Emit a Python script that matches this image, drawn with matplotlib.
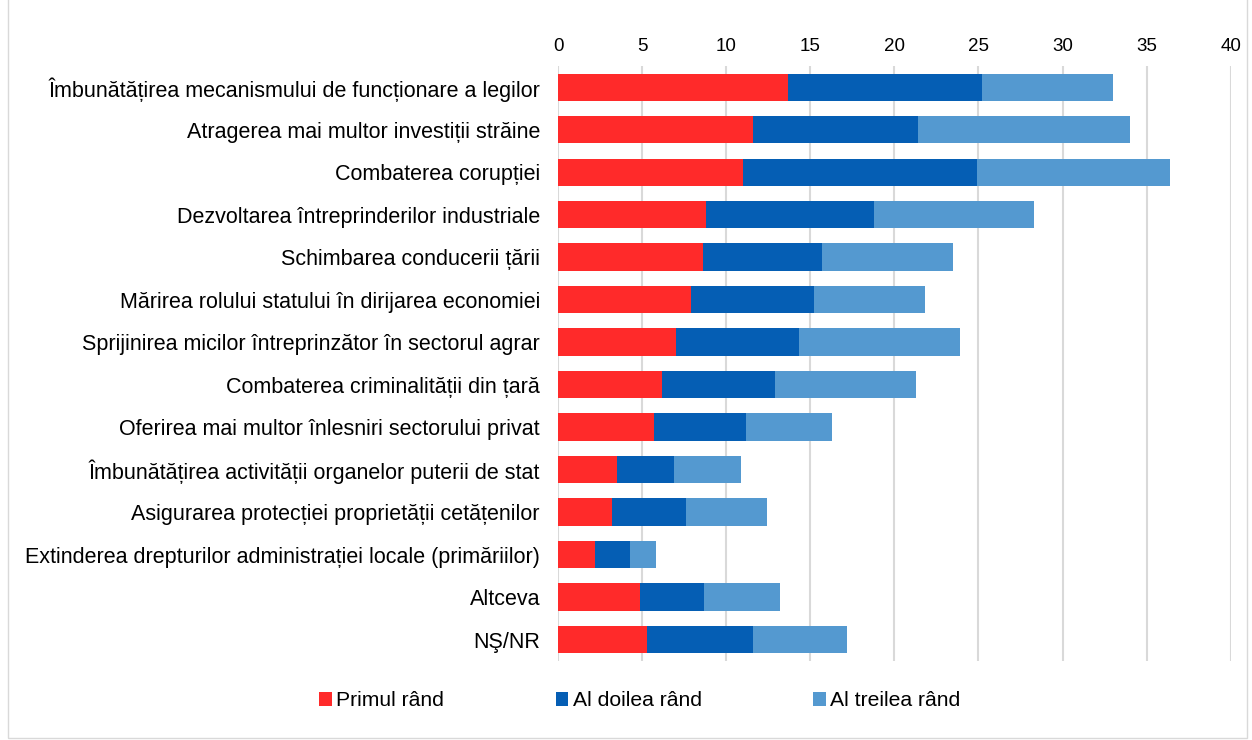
import numpy as np
import matplotlib.pyplot as plt
from matplotlib.patches import Rectangle

plt.rcParams['font.family'] = ['Liberation Sans', 'DejaVu Sans']

categories = [
    "Îmbunătățirea mecanismului de funcționare a legilor",
    "Atragerea mai multor investiții străine",
    "Combaterea corupției",
    "Dezvoltarea întreprinderilor industriale",
    "Schimbarea conducerii țării",
    "Mărirea rolului statului în dirijarea economiei",
    "Sprijinirea micilor întreprinzător în sectorul agrar",
    "Combaterea criminalității din țară",
    "Oferirea mai multor înlesniri sectorului privat",
    "Îmbunătățirea activității organelor puterii de stat",
    "Asigurarea protecției proprietății cetățenilor",
    "Extinderea drepturilor administrației locale (primăriilor)",
    "Altceva",
    "NŞ/NR",
]
primul = [13.7, 11.6, 11.0, 8.8, 8.6, 7.9, 7.0, 6.2, 5.7, 3.5, 3.2, 2.2, 4.9, 5.3]
al_doilea = [11.5, 9.8, 13.9, 10.0, 7.1, 7.3, 7.3, 6.7, 5.5, 3.4, 4.4, 2.1, 3.8, 6.3]
al_treilea = [7.8, 12.6, 11.5, 9.5, 7.8, 6.6, 9.6, 8.4, 5.1, 4.0, 4.8, 1.5, 4.5, 5.6]
series_names = ["Primul rând", "Al doilea rând", "Al treilea rând"]
colors = ["#ff2a2a", "#055eb4", "#5499d0"]

fig = plt.figure(figsize=(12.52, 7.4), dpi=100)
ax = fig.add_axes([0.4457, 0.107, 0.5373, 0.804])

y = np.arange(len(categories))
h = 0.64
left = np.zeros(len(categories))
for vals, name, c in zip([primul, al_doilea, al_treilea], series_names, colors):
    ax.barh(y, vals, h, left=left, color=c, label=name, zorder=3)
    left = left + np.array(vals)

ax.set_ylim(len(categories) - 0.5, -0.5)
ax.set_xlim(0, 40)
ax.set_xticks(range(0, 41, 5))
ax.xaxis.tick_top()
ax.set_yticks(y)
ax.set_yticklabels(categories, fontsize=15.5)
ax.tick_params(axis='x', labelsize=13.5, length=0, pad=8)
ax.tick_params(axis='y', length=0, pad=13)
ax.grid(axis='x', color='#d9d9d9', linewidth=1.5, zorder=0)
for s in ax.spines.values():
    s.set_visible(False)

fig.legend(loc='center', bbox_to_anchor=(0.511, 0.053), ncol=3, frameon=False,
           fontsize=15.2, handlelength=0.6, handleheight=0.6, handletextpad=0.2,
           columnspacing=5.3)

fig.patches.append(Rectangle((0.006, 0.003), 0.99, 1.2, transform=fig.transFigure,
                             fill=False, edgecolor='#d9d9d9', linewidth=1))

fig.savefig('out.png', dpi=100)
